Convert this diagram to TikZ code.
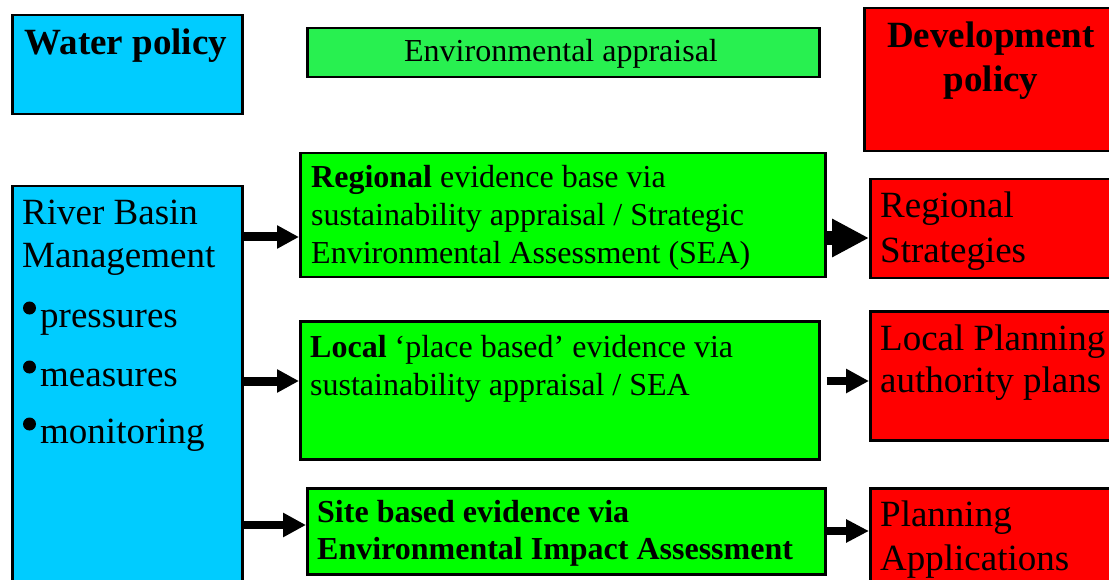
\documentclass[tikz,border=0pt]{standalone}
\usepackage{fontspec}
\setmainfont{Liberation Serif}
\usetikzlibrary{arrows.meta}
\definecolor{waterblue}{RGB}{0,204,255}
\definecolor{appraisalgreen}{RGB}{40,240,80}
\definecolor{evidencegreen}{RGB}{0,255,0}
\definecolor{devred}{RGB}{255,0,0}
\newcommand{\bigtext}{\fontsize{37}{43}\selectfont}
\newcommand{\midtext}{\fontsize{32}{38}\selectfont}
\begin{document}
\begin{tikzpicture}[x=1pt,y=-1pt,
    box/.style={draw=black, line width=2.5pt, anchor=north west, inner sep=0pt},
    lbl/.style={anchor=base west, inner sep=0pt, align=left},
    flow/.style={line width=8.6pt, -{Triangle[length=23pt,width=23pt]}},
    bigflow/.style={line width=14pt, -{Triangle[length=37pt,width=36pt]}}
]
    \useasboundingbox (0,0) rectangle (1109,580);
    \clip (0,0) rectangle (1109,580);
    \fill[white] (0,0) rectangle (1109,580);

    % headings
    \node[box, fill=waterblue, minimum width=230pt, minimum height=99pt] (wp) at (11,14) {};
    \node[anchor=base, inner sep=0pt, font=\bigtext\bfseries] (wptext) at (126,55) {Water policy};
    \node[box, fill=appraisalgreen, minimum width=512pt, minimum height=49pt] (ea) at (306,27) {};
    \node[anchor=base, inner sep=0pt, font=\midtext] (eatext) at (561,62) {Environmental appraisal};
    \node[box, fill=devred, minimum width=257pt, minimum height=143pt] (dp) at (863,7) {};
    \node[anchor=base, inner sep=0pt, align=center, font=\fontsize{37}{44}\selectfont\bfseries] (dptext) at (991,92) {Development\\policy};

    % water side
    \node[box, fill=waterblue, minimum width=230pt, minimum height=420pt] (rbm) at (11,185) {};
    \node[lbl, font=\bigtext] (rbmtext) at (22,268) {River Basin\\Management};
    \foreach \y/\lab in {
        327/pressures,
        386/measures,
        443/monitoring
    }{
        \fill (29.5,\y-19) circle (6.5pt);
        \node[lbl, font=\bigtext] (item-\y) at (40,\y) {\lab};
    }

    % evidence base
    \node[box, fill=evidencegreen, minimum width=525pt, minimum height=124pt] (reg) at (299,152) {};
    \node[lbl, font=\midtext] (regtext) at (311,264) {\textbf{Regional} evidence base via\\sustainability appraisal / Strategic\\Environmental Assessment (SEA)};
    \node[box, fill=evidencegreen, minimum width=519pt, minimum height=138pt] (loc) at (299,320) {};
    \node[lbl, font=\midtext] (loctext) at (310,395) {\textbf{Local} `place based' evidence via\\sustainability appraisal / SEA};
    \node[box, fill=evidencegreen, minimum width=518pt, minimum height=86pt] (site) at (306,487) {};
    \node[lbl, font=\fontsize{32}{37}\selectfont\bfseries] (sitetext) at (317,559) {Site based evidence via\\Environmental Impact Assessment};

    % development side
    \node[box, fill=devred, minimum width=251pt, minimum height=99pt] (rs) at (869,178) {};
    \node[lbl, font=\fontsize{37}{44}\selectfont] (rstext) at (880,262) {Regional\\Strategies};
    \node[box, fill=devred, minimum width=251pt, minimum height=129pt] (lpa) at (869,310) {};
    \node[lbl, font=\fontsize{37}{42}\selectfont] (lpatext) at (880,392) {Local Planning\\authority plans};
    \node[box, fill=devred, minimum width=251pt, minimum height=120pt] (pa) at (869,487) {};
    \node[lbl, font=\fontsize{37}{44}\selectfont] (patext) at (880,570) {Planning\\Applications};

    % arrows
    \draw[flow, line width=9pt, -{Triangle[length=22pt,width=22pt]}] (rbm.east |- 0,237) -- (reg.west |- 0,237);
    \draw[flow, line width=9pt, -{Triangle[length=22pt,width=22pt]}] (rbm.east |- 0,381) -- (loc.west |- 0,381);
    \draw[flow] (rbm.east |- 0,525) -- (site.west |- 0,525);
    \draw[bigflow] (reg.east |- 0,238) -- (rs.west |- 0,238);
    \draw[flow, line width=8pt, shorten <=6pt] (loc.east |- 0,381) -- (lpa.west |- 0,381);
    \draw[flow, line width=8pt, -{Triangle[length=23pt,width=22pt]}] (site.east |- 0,531) -- (pa.west |- 0,531);
\end{tikzpicture}
\end{document}
